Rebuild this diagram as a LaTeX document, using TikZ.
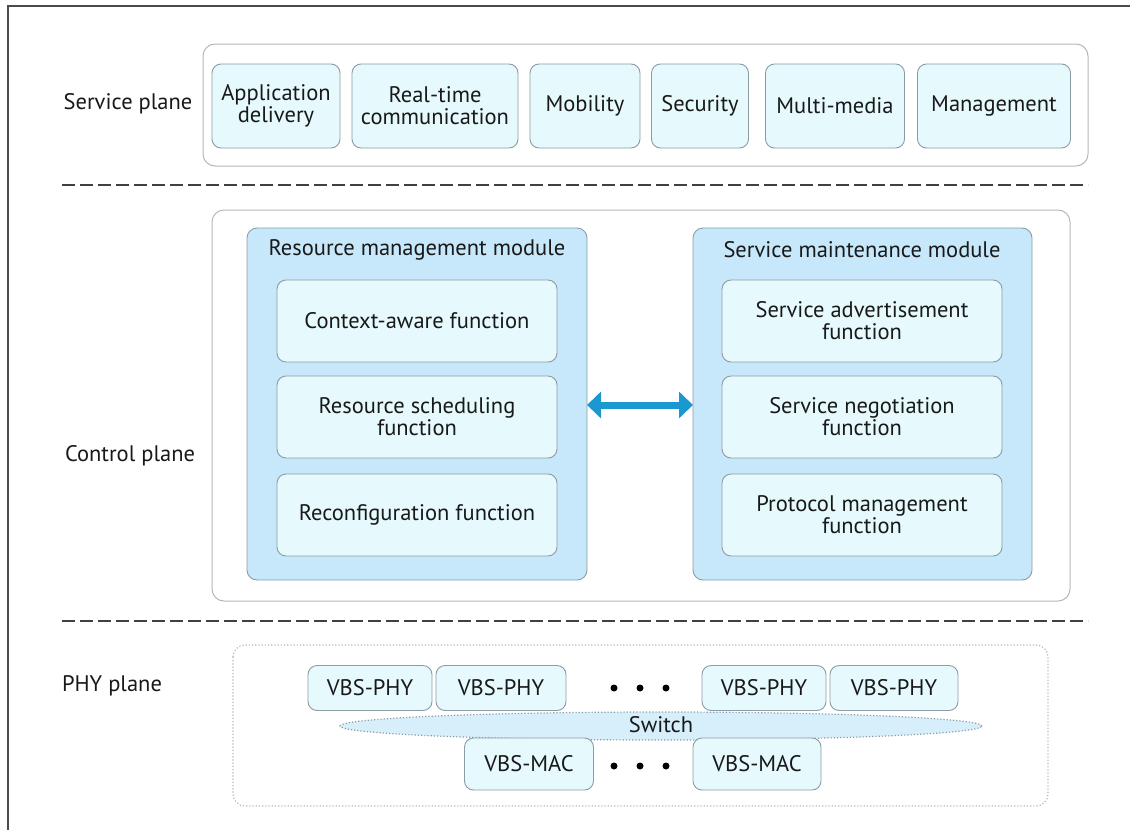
\documentclass[tikz,border=0pt]{standalone}
\usepackage{fontspec}
\setmainfont{PT Sans}
\usepackage{tikz}
\usetikzlibrary{arrows.meta,shapes.geometric}

\definecolor{boxfill}{HTML}{E6FAFD}
\definecolor{boxline}{HTML}{8C9CA4}
\definecolor{modfill}{HTML}{C6E8FA}
\definecolor{planeline}{HTML}{B4B8BC}
\definecolor{arrowblue}{HTML}{1A98CF}

\tikzset{
  funcbox/.style={draw=boxline, fill=boxfill, rounded corners=9pt, line width=0.9pt,
    inner sep=0pt, align=center, text=black!90},
  modbox/.style={draw=boxline, fill=modfill, rounded corners=10pt, line width=0.9pt},
  planebox/.style={draw=planeline, rounded corners=12pt, line width=1pt},
  planelabel/.style={text=black!90},
  sepline/.style={dash pattern=on 13pt off 5pt, line width=1.2pt, black!75}
}

\begin{document}
\begin{tikzpicture}[x=1pt, y=-1pt, font=\fontsize{22.5}{22}\selectfont]
\pgfmathsetmacro{\BH}{84}
\pgfmathsetmacro{\FW}{280}
\pgfmathsetmacro{\FH}{82}
\useasboundingbox (0,0) rectangle (1130,830);
\fill[white] (0,0) rectangle (1130,830);
\draw[line width=1.6pt, black!70] (8,830) -- (8,6) -- (1130,6);

% service plane
\node[planelabel] (splabel) at (128,104) {Service plane};
\draw[planebox] (203,44) rectangle (1088,166);
\node[funcbox, minimum width=128pt, minimum height=\BH pt] (app) at (276,106) {Application\\delivery};
\node[funcbox, minimum width=166pt, minimum height=\BH pt] (rtc) at (435,106) {Real-time\\communication};
\node[funcbox, minimum width=110pt, minimum height=\BH pt] (mob) at (585,106) {Mobility};
\node[funcbox, minimum width=97pt, minimum height=\BH pt] (sec) at (700,106) {Security};
\node[funcbox, minimum width=139pt, minimum height=\BH pt] (mm) at (835,106) {Multi-media};
\node[funcbox, minimum width=153pt, minimum height=\BH pt] (mgmt) at (994,106) {Management};

\draw[sepline] (62,185) -- (1088,185);

% control plane
\node[planelabel] (cplabel) at (130,456) {Control plane};
\draw[planebox] (212,210) rectangle (1070,601);
\draw[modbox] (247,228) rectangle (587,580);
\draw[modbox] (693,228) rectangle (1032,580);
\coordinate (rmE) at (587,405);
\coordinate (smW) at (693,405);
\node[text=black!90] (rmtitle) at (417,250) {Resource management module};
\node[text=black!90] (smtitle) at (862,250) {Service maintenance module};
\node[funcbox, minimum width=\FW pt, minimum height=\FH pt] (ctx) at (417,321) {Context-aware function};
\node[funcbox, minimum width=\FW pt, minimum height=\FH pt] (sched) at (417,417) {Resource scheduling\\function};
\node[funcbox, minimum width=\FW pt, minimum height=\FH pt] (reconf) at (417,515) {Reconfiguration function};
\node[funcbox, minimum width=\FW pt, minimum height=\FH pt] (adv) at (862,321) {Service advertisement\\function};
\node[funcbox, minimum width=\FW pt, minimum height=\FH pt] (nego) at (862,417) {Service negotiation\\function};
\node[funcbox, minimum width=\FW pt, minimum height=\FH pt] (proto) at (862,515) {Protocol management\\function};
\draw[arrowblue, line width=7pt, {Triangle[width=26pt,length=14pt]}-{Triangle[width=26pt,length=14pt]}] (rmE) -- (smW);

\draw[sepline] (62,621) -- (1088,621);

% PHY plane
\node[planelabel] (phylabel) at (112,686) {PHY plane};
\draw[draw=planeline, dotted, line width=1.2pt, rounded corners=12pt] (233,645) rectangle (1048,806);
\node[draw=boxline, fill=modfill!70, dotted, line width=1.2pt, ellipse, minimum width=642pt, minimum height=28pt, inner sep=0pt] (switch) at (661,726) {};
\foreach \x/\w [count=\i] in {370/124, 501/130, 764/124, 894/128}
  \node[funcbox, minimum width=\w pt, minimum height=45pt] (phy\i) at (\x,688) {VBS-PHY};
\node[text=black!90] (switchtext) at (661,725) {Switch};
\node[funcbox, minimum width=129pt, minimum height=52pt] (mac1) at (529,764) {VBS-MAC};
\node[funcbox, minimum width=128pt, minimum height=52pt] (mac2) at (757,764) {VBS-MAC};
\foreach \x in {614,640,666} {
  \fill[black] (\x,688) circle (3.5pt);
  \fill[black] (\x,766) circle (3.5pt);
}
\end{tikzpicture}
\end{document}
